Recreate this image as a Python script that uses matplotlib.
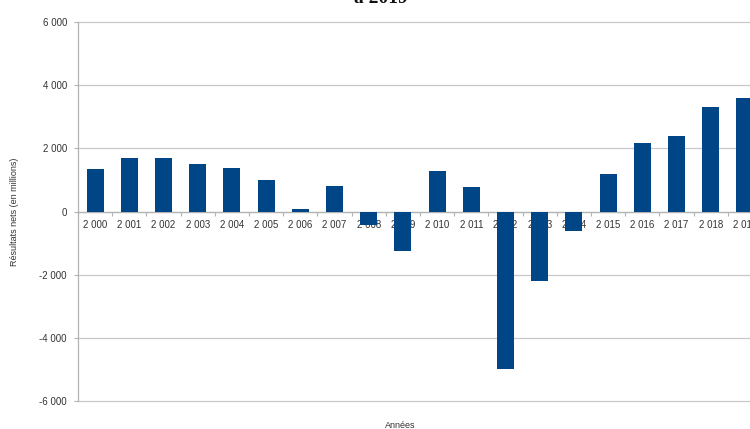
import matplotlib
matplotlib.use("Agg")
import matplotlib.pyplot as plt
from matplotlib.ticker import FuncFormatter, FixedLocator

plt.rcParams['font.family'] = ['Liberation Sans', 'DejaVu Sans']

# DATA
annees = list(range(2000, 2020))
resultats = [1330, 1690, 1700, 1510, 1370, 1010, 80, 820, -420, -1255,
             1270, 780, -5000, -2210, -620, 1200, 2170, 2380, 3300, 3595]
y_ticks = [-6000, -4000, -2000, 0, 2000, 4000, 6000]


def fmt_milliers(v):
    s = f"{int(abs(v)):,}".replace(",", " ")
    return ("-" if v < 0 else "") + s


# FIGURE
fig = plt.figure(figsize=(7.5, 4.29), dpi=100)
W, H = 750, 429
left, right, top, bottom = 78, 762, 22, 401
ax = fig.add_axes([left / W, 1 - bottom / H, (right - left) / W, (bottom - top) / H])

x = list(range(len(annees)))
ax.bar(x, resultats, width=0.5, color="#004586", zorder=3)

ax.set_xlim(-0.5, len(annees) - 0.5)
ax.set_ylim(-6000, 6000)

# y axis
ax.set_yticks(y_ticks)
ax.yaxis.set_major_formatter(FuncFormatter(lambda v, p: fmt_milliers(v)))
ax.tick_params(axis='y', length=3, width=0.8, color="#b3b3b3", labelsize=7, pad=5,
               labelcolor="#333333")
ax.grid(axis='y', color="#c8c8c8", linewidth=0.9, zorder=0)
for gl in ax.get_ygridlines():
    gl.set_clip_on(False)

# x axis crosses at 0
ax.spines['bottom'].set_position(('data', 0))
ax.spines['bottom'].set_color("#b3b3b3")
ax.spines['bottom'].set_linewidth(0.9)
ax.spines['left'].set_color("#b3b3b3")
ax.spines['left'].set_linewidth(0.9)
ax.spines['top'].set_visible(False)
ax.spines['right'].set_visible(False)

ax.set_xticks(x)
ax.set_xticklabels([fmt_milliers(a) for a in annees])
ax.xaxis.set_minor_locator(FixedLocator([i - 0.5 for i in range(len(annees) + 1)]))
ax.tick_params(axis='x', which='major', length=0, labelsize=7, pad=6, labelcolor="#333333")
ax.tick_params(axis='x', which='minor', length=3, width=0.8, color="#b3b3b3")
for lbl in ax.get_xticklabels():
    lbl.set_zorder(5)

fig.text(15 / W, 1 - 212 / H, "Résultats nets (en millions)", rotation=90,
         ha='center', va='center', fontsize=6.5, color="#333333")
fig.text(400 / W, 1 - 425 / H, "Années", ha='center', va='center',
         fontsize=6.5, color="#333333")

# titre coupé en haut de l'image
fig.text(381 / W, 1 - 3 / H, "à 2019", ha='center', va='baseline',
         fontsize=14, fontweight='bold', family=['Liberation Serif', 'DejaVu Serif'],
         color="#111111")

fig.savefig("out.png", dpi=100)
